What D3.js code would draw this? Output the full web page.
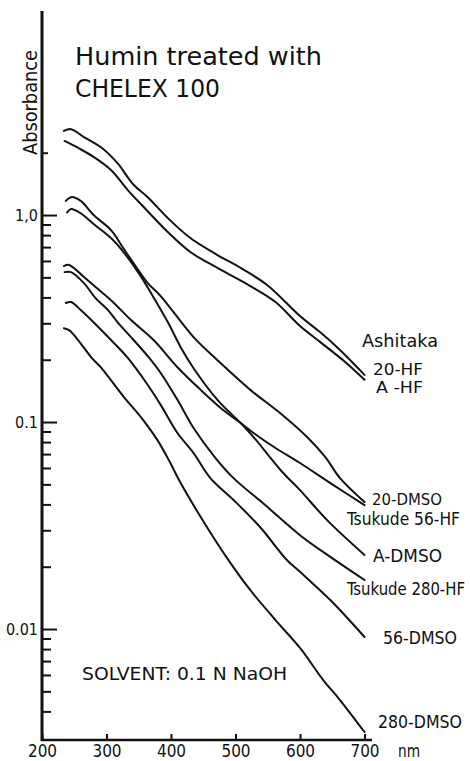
<!DOCTYPE html>
<html>
<head>
<meta charset="utf-8">
<script src="https://cdn.jsdelivr.net/npm/d3@7/dist/d3.min.js"></script>
<style>
body { margin: 0; background: #fff; }
svg text { font-family: "DejaVu Sans Condensed", "Liberation Sans Narrow", "DejaVu Sans", sans-serif; font-stretch: condensed; fill: #111; }
</style>
</head>
<body>
<div class="chart"></div>
<script>
// wavelength (nm) / absorbance
var wl20HF  = [234, 245, 265, 291, 317, 342, 364, 395, 430, 472, 508, 549, 600, 631, 662, 700]
var abs20HF = [2.55, 2.60, 2.38, 2.13, 1.78, 1.40, 1.22, 0.967, 0.774, 0.641, 0.555, 0.459, 0.325, 0.272, 0.223, 0.169]

var wlAHF  = [235, 256, 280, 307, 333, 358, 395, 430, 472, 523, 562, 600, 631, 670, 700]
var absAHF = [2.28, 2.11, 1.91, 1.65, 1.32, 1.09, 0.828, 0.663, 0.555, 0.454, 0.380, 0.291, 0.244, 0.195, 0.160]

var wl20DMSO  = [237, 245, 260, 280, 307, 327, 345, 364, 384, 435, 472, 523, 569, 611, 639, 662, 700]
var abs20DMSO = [1.17, 1.22, 1.17, 1.00, 0.846, 0.685, 0.567, 0.469, 0.406, 0.257, 0.199, 0.143, 0.1105, 0.0846, 0.0678, 0.0536, 0.0411]

var wlADMSO  = [239, 245, 260, 280, 307, 330, 353, 368, 395, 415, 435, 472, 508, 528, 574, 600, 642, 700]
var absADMSO = [1.03, 1.07, 1.02, 0.905, 0.774, 0.641, 0.507, 0.425, 0.304, 0.230, 0.182, 0.128, 0.0989, 0.0846, 0.0567, 0.0469, 0.0336, 0.0228]

var wlT56HF  = [234, 242, 265, 283, 307, 338, 373, 410, 446, 477, 508, 528, 562, 600, 647, 700]
var absT56HF = [0.567, 0.574, 0.502, 0.449, 0.388, 0.311, 0.249, 0.184, 0.143, 0.117, 0.0989, 0.0885, 0.0749, 0.0634, 0.0507, 0.0397]

var wlT280HF  = [235, 245, 265, 283, 302, 317, 342, 364, 384, 410, 435, 469, 497, 546, 600, 647, 700]
var absT280HF = [0.530, 0.530, 0.469, 0.397, 0.348, 0.304, 0.249, 0.208, 0.1725, 0.128, 0.0935, 0.0670, 0.0536, 0.0397, 0.0284, 0.0223, 0.01725]

var wl56DMSO  = [237, 245, 260, 283, 307, 333, 364, 384, 410, 435, 461, 497, 538, 580, 600, 647, 700]
var abs56DMSO = [0.376, 0.380, 0.348, 0.297, 0.249, 0.204, 0.151, 0.121, 0.0885, 0.0708, 0.0536, 0.0420, 0.0311, 0.0215, 0.0189, 0.0138, 0.00915]

var wl280DMSO  = [234, 242, 256, 276, 291, 327, 353, 379, 399, 415, 446, 487, 523, 562, 600, 636, 662, 700]
var abs280DMSO = [0.284, 0.278, 0.249, 0.206, 0.184, 0.132, 0.106, 0.0818, 0.0634, 0.0507, 0.0348, 0.0220, 0.0154, 0.01105, 0.0081, 0.00567, 0.00454, 0.00318]

var xTicks = [200, 300, 400, 500, 600, 700]
var yMajor = [1, 0.1, 0.01]
var yMajorLabels = ["1,0", "0.1", "0.01"]
var yMinor = [0.9, 0.8, 0.7, 0.6, 0.5, 0.4, 0.3, 0.2,
              0.09, 0.08, 0.07, 0.06, 0.05, 0.04, 0.03, 0.02,
              0.009, 0.008, 0.007, 0.006, 0.005, 0.004]
var yShort = [2]

var curves = [
    { name: "20-HF", wl: wl20HF, abs: abs20HF },
    { name: "A -HF", wl: wlAHF, abs: absAHF },
    { name: "20-DMSO", wl: wl20DMSO, abs: abs20DMSO },
    { name: "A-DMSO", wl: wlADMSO, abs: absADMSO },
    { name: "Tsukude 56-HF", wl: wlT56HF, abs: absT56HF },
    { name: "Tsukude 280-HF", wl: wlT280HF, abs: absT280HF },
    { name: "56-DMSO", wl: wl56DMSO, abs: abs56DMSO },
    { name: "280-DMSO", wl: wl280DMSO, abs: abs280DMSO }
]

var W = 470, H = 761

var svg = d3.select(".chart")
    .append("svg")
    .attr("width", W)
    .attr("height", H)

var x = d3.scaleLinear()
    .domain([200, 700])
    .range([42, 364.5])

var y = d3.scaleLog()
    .domain([0.00291, 9.57])
    .range([740, 12])

// y ticks (drawn inward, labels on the left)
svg.append("g")
    .attr("transform", "translate(42,0)")
    .style("font-size", "16px")
    .call(d3.axisLeft(y).tickValues(yMajor).tickSizeInner(-15).tickSizeOuter(0).tickPadding(4)
        .tickFormat(function (d, i) { return yMajorLabels[i] }))
    .call(g => g.select(".domain").remove())

svg.append("g")
    .attr("transform", "translate(42,0)")
    .call(d3.axisLeft(y).tickValues(yMinor).tickSizeInner(-9).tickSizeOuter(0).tickFormat(""))
    .call(g => g.select(".domain").remove())

svg.append("g")
    .attr("transform", "translate(42,0)")
    .call(d3.axisLeft(y).tickValues(yShort).tickSizeInner(-6).tickSizeOuter(0).tickFormat(""))
    .call(g => g.select(".domain").remove())

// x ticks
svg.append("g")
    .attr("transform", "translate(0,740)")
    .style("font-size", "17px")
    .call(d3.axisBottom(x).tickValues(xTicks).tickSizeInner(-6).tickSizeOuter(0).tickPadding(5))
    .call(g => g.select(".domain").remove())

svg.selectAll(".tick line")
    .attr("stroke", "#111")
    .attr("stroke-width", 2)
svg.selectAll(".tick text")
    .style("font-family", null)
    .attr("fill", "#111")

// axis lines
svg.append("line")
    .attr("x1", 42).attr("x2", 42)
    .attr("y1", 11).attr("y2", 741)
    .attr("stroke", "#111")
    .attr("stroke-width", 3)
svg.append("line")
    .attr("x1", 41).attr("x2", 372)
    .attr("y1", 740).attr("y2", 740)
    .attr("stroke", "#111")
    .attr("stroke-width", 2.5)

// curves
var line = d3.line()
    .x(function (d) { return x(d[0]) })
    .y(function (d) { return y(d[1]) })
    .curve(d3.curveCatmullRom.alpha(0.5))

svg.selectAll(".curve")
    .data(curves)
    .join("path")
    .attr("class", "curve")
    .attr("fill", "none")
    .attr("stroke", "#111")
    .attr("stroke-width", 2)
    .attr("stroke-linecap", "round")
    .attr("stroke-linejoin", "round")
    .attr("d", function (c) { return line(c.wl.map(function (w, i) { return [w, c.abs[i]] })) })

// text annotations
var notes = [
    { t: "Humin treated with", x: 75, y: 65, len: 247, fs: 25 },
    { t: "CHELEX 100", x: 75, y: 97, len: 145, fs: 25 },
    { t: "Ashitaka", x: 362, y: 347, len: 76, fs: 17 },
    { t: "20-HF", x: 373, y: 375, len: 50, fs: 16 },
    { t: "A -HF", x: 376, y: 393, len: 47, fs: 16 },
    { t: "20-DMSO", x: 372, y: 505, len: 70, fs: 16 },
    { t: "Tsukude 56-HF", x: 347, y: 525, len: 113, fs: 17 },
    { t: "A-DMSO", x: 373, y: 562, len: 69, fs: 17 },
    { t: "Tsukude 280-HF", x: 347, y: 595, len: 118, fs: 17 },
    { t: "56-DMSO", x: 383, y: 644, len: 74, fs: 17 },
    { t: "280-DMSO", x: 378, y: 728, len: 84, fs: 17 },
    { t: "SOLVENT: 0.1 N NaOH", x: 82, y: 680, len: 205, fs: 17 },
    { t: "nm", x: 398, y: 757, len: 22, fs: 17 }
]

svg.selectAll(".note")
    .data(notes)
    .join("text")
    .attr("class", "note")
    .attr("x", function (d) { return d.x })
    .attr("y", function (d) { return d.y })
    .attr("textLength", function (d) { return d.len })
    .attr("lengthAdjust", "spacingAndGlyphs")
    .style("font-size", function (d) { return d.fs + "px" })
    .text(function (d) { return d.t })

svg.append("text")
    .attr("transform", "translate(37,155) rotate(-90)")
    .attr("textLength", 105)
    .attr("lengthAdjust", "spacingAndGlyphs")
    .style("font-size", "20px")
    .text("Absorbance")
</script>
</body>
</html>
